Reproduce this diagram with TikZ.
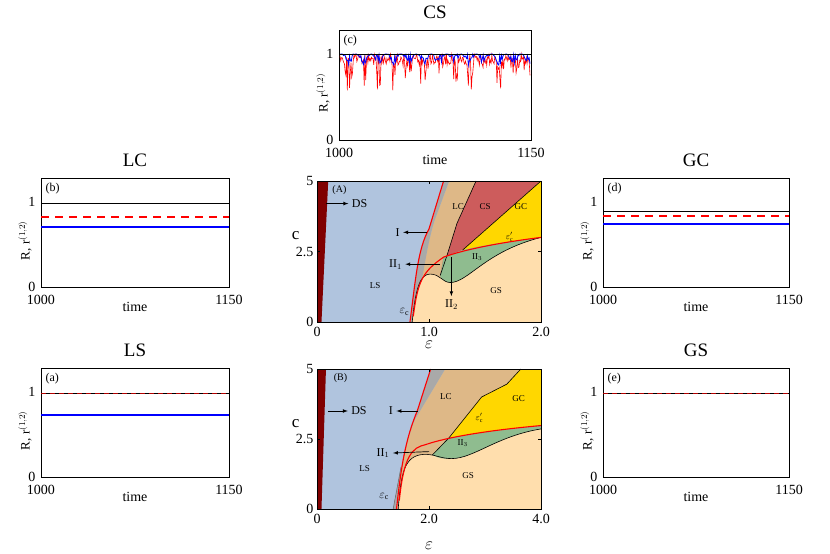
\documentclass[tikz,border=0pt]{standalone}
\usepackage{fontspec}
\setmainfont{Liberation Serif}
\begin{document}
\begin{tikzpicture}[x=1pt,y=-1pt,
  ttl/.style={font=\fontsize{19}{19}\selectfont},
  tick/.style={font=\fontsize{14}{14}\selectfont},
  plab/.style={font=\fontsize{12}{12}\selectfont},
  rlab/.style={font=\fontsize{9}{9}\selectfont},
  blk/.style={line width=0.9pt},
  redc/.style={red,line width=1.1pt},
  arr/.style={-latex,line width=0.7pt}]
\useasboundingbox (0,0) rectangle (830,554);
\definecolor{lsb}{RGB}{176,196,222}
\definecolor{lct}{RGB}{222,184,135}
\definecolor{csr}{RGB}{205,92,92}
\definecolor{gcy}{RGB}{255,215,0}
\definecolor{gsb}{RGB}{255,222,173}
\definecolor{grn}{RGB}{143,188,143}
\definecolor{dsr}{RGB}{128,0,0}
\definecolor{gry}{RGB}{169,169,169}

% ---------- time series panels ----------
\newcommand\tsbox[6]{% #1 left x, #2 top y, #3 title, #4 label, #5 right x, #6 bottom y
  \node[ttl] (t#4) at ({(#1+#5)/2},#2-18) {#3};
  \draw[blk] (#1,#2) rectangle (#5,#6);
  \node[plab,anchor=north west] (p#4) at (#1+1,#2+2) {(#4)};
  \node[tick,anchor=east] (y0#4) at (#1-2,#6) {0};
  \node[tick,anchor=east] (y1#4) at (#1-2,{#6-0.78*(#6-#2)}) {1};
  \node[tick] (x0#4) at (#1,#6+13) {1000};
  \node[tick] (x1#4) at (#5,#6+13) {1150};
  \node[tick] (tm#4) at ({(#1+#5)/2},#6+20) {time};
  \node[font=\fontsize{13}{13}\selectfont,rotate=90] (yl#4) at (#1-16,{(#2+#6)/2+8}) {R, r$^{(1,2)}$};
}
\tsbox{41}{178}{LC}{b}{229}{287}
\tsbox{41}{368}{LS}{a}{229}{477}
\tsbox{603}{178}{GC}{d}{789}{287}
\tsbox{603}{368}{GS}{e}{789}{477}
\tsbox{339}{30}{CS}{c}{531}{140}

% LC
\draw[blk] (41,203) -- (229,203);
\draw[red,line width=1.8pt,dash pattern=on 8pt off 6pt] (41,217) -- (229,217);
\draw[blue,line width=1.2pt] (41,227) -- (229,227);
% LS
\draw[blue,line width=1.2pt] (41,415) -- (229,415);
\draw[blk] (41,393) -- (229,393);
\draw[red!70!black,line width=1pt,dash pattern=on 5pt off 4pt] (41,393) -- (229,393);
% GC
\draw[blk] (603,211) -- (789,211);
\draw[red,line width=1.8pt,dash pattern=on 8pt off 6pt] (603,216) -- (789,216);
\draw[blue,line width=1.2pt] (603,224) -- (789,224);
% GS
\draw[blk] (603,393) -- (789,393);
\draw[red!70!black,line width=1pt,dash pattern=on 5pt off 4pt] (603,393) -- (789,393);
% CS
\pgfmathsetseed{7}
\draw[red,line width=0.6pt] plot[samples=260,domain=340:530] (\x,{140-86*(1-0.12*rnd-0.3*rnd^4*(1+sin(\x*24))/1.4)});
\draw[blue,line width=0.8pt] plot[samples=220,domain=340:530] (\x,{140-86*(1-0.13*rnd*(1+sin(\x*24))/2)});
\draw[blk] (339,54) -- (531,54);

% ---------- phase diagram A ----------
\begin{scope}[shift={(317,322)},x=112pt,y=28.2pt]
\fill[lsb] (0,0) rectangle (2,5);
\fill[lct] (0.84,0) .. controls (0.95,1.5) and (0.97,2.6) .. (1.05,3.6) -- (1.18,5) -- (2,5) -- (2,0) -- cycle;
\fill[csr] (1.1,1.65) -- (1.16,2.35) -- (1.25,3.5) -- (1.42,5) -- (2,5) -- (1.3,2.55) -- (1.13,2.3) -- cycle;
\fill[gcy] (1.3,2.55) -- (2,5) -- (2,3.0) .. controls (1.7,2.85) .. cycle;
\fill[gry] (0.83,0) .. controls (0.88,1.5) and (0.9,2.6) .. (1.0,3.3) -- (1.13,5) -- (1.18,5) -- (1.05,3.6) .. controls (0.97,2.6) and (0.95,1.5) .. (0.86,0) -- cycle;
\fill[gsb] (0.85,0) .. controls (0.88,1.2) and (0.92,1.7) .. (1.01,1.7) .. controls (1.1,1.7) and (1.12,1.4) .. (1.19,1.4) .. controls (1.35,1.4) and (1.5,2.5) .. (2,3.0) -- (2,0) -- cycle;
\fill[grn] (1.1,1.62) .. controls (1.13,1.45) .. (1.19,1.4) .. controls (1.35,1.4) and (1.5,2.5) .. (2,3.0) .. controls (1.7,2.85) and (1.45,2.7) .. (1.3,2.55) -- (1.13,2.3) -- cycle;
\fill[dsr] (0,0) -- (0.04,0) -- (0.1,5) -- (0,5) -- cycle;
\draw[blk,line width=0.6pt] (0.85,0) .. controls (0.88,1.2) and (0.92,1.7) .. (1.01,1.7) .. controls (1.1,1.7) and (1.12,1.4) .. (1.19,1.4) .. controls (1.35,1.4) and (1.5,2.5) .. (2,3.0);
\draw[blk,line width=0.6pt] (1.42,5) -- (1.25,3.5) -- (1.16,2.35) -- (1.1,1.65);
\draw[blk,line width=0.6pt] (1.3,2.55) -- (2,5);
\draw[redc] (0.83,0) .. controls (0.88,1.5) and (0.9,2.6) .. (1.0,3.3) -- (1.13,5);
\draw[redc] (0.86,0.2) .. controls (0.9,1.5) and (0.95,1.8) .. (1.13,2.3) .. controls (1.3,2.55) and (1.6,2.8) .. (2,3.0);
\draw[line width=0.7pt] (0,0) rectangle (2,5);
\draw (0,2.5) -- (0.03,2.5); \draw (2,2.5) -- (1.97,2.5);
\draw (1,0) -- (1,0.12); \draw (1,5) -- (1,4.88);
\node[tick,anchor=east] (ay0) at (0,0) {0};
\node[tick,anchor=east] (ay1) at (0,2.5) {2.5};
\node[tick,anchor=east] (ay2) at (0,5) {5};
\node[tick,anchor=north] (ax0) at (0,-0.05) {0};
\node[tick,anchor=north] (ax1) at (1,-0.05) {1.0};
\node[tick,anchor=north] (ax2) at (2,-0.05) {2.0};
\node[font=\fontsize{17}{17}\selectfont] (ac) at (-0.19,3.05) {c};
\node[font=\fontsize{17}{17}\selectfont] (ae) at (1,-0.8) {$\varepsilon$};
\node[font=\fontsize{10}{10}\selectfont] (pA) at (0.2,4.67) {(A)};
\node[plab] (dsA) at (0.38,4.2) {DS};
\coordinate (dsAs) at (0.08,4.2);
\draw[arr] (dsAs) -- (dsA.west);
\node[plab] (IA) at (0.72,3.18) {I};
\coordinate (IAs) at (0.98,3.18);
\draw[arr] (IAs) -- (IA.east);
\node[plab] (II1A) at (0.7,2.05) {II$_1$};
\coordinate (II1As) at (1.1,2.05);
\draw[arr] (II1As) -- (II1A.east);
\node[plab] (II2A) at (1.2,0.62) {II$_2$};
\coordinate (II2As) at (1.2,2.3);
\draw[arr] (II2As) -- (II2A.north);
\node[rlab] (lsA) at (0.52,1.3) {LS};
\node[plab] (ecA) at (0.78,0.35) {$\varepsilon_{\rm c}$};
\node[rlab] (lcA) at (1.26,4.1) {LC};
\node[rlab] (csA) at (1.5,4.1) {CS};
\node[rlab] (gcA) at (1.82,4.1) {GC};
\node[rlab] (epA) at (1.72,3.02) {$\varepsilon'_{\rm c}$};
\node[rlab] (ii3A) at (1.43,2.3) {II$_3$};
\node[rlab] (gsA) at (1.6,1.12) {GS};
\end{scope}

% ---------- phase diagram B ----------
\begin{scope}[shift={(317,509)},x=56pt,y=28pt]
\fill[lsb] (0,0) rectangle (4,5);
\fill[lct] (1.4,0) .. controls (1.5,1.5) and (1.6,2.5) .. (1.75,3.2) -- (2.29,5) -- (4,5) -- (4,0) -- cycle;
\fill[gcy] (2.36,2.55) -- (2.94,4.0) -- (3.39,4.46) -- (3.64,5) -- (4,5) -- (4,2.98) .. controls (3.2,2.8) .. cycle;
\fill[gry] (1.36,0) .. controls (1.5,1.5) and (1.58,2.5) .. (1.79,3.5) -- (2.03,5) -- (2.29,5) -- (1.75,3.2) .. controls (1.6,2.5) and (1.5,1.5) .. (1.42,0) -- cycle;
\fill[gsb] (1.45,0) .. controls (1.5,1.3) and (1.56,1.9) .. (1.9,1.95) .. controls (2.1,1.97) and (2.2,1.8) .. (2.4,1.8) .. controls (2.8,1.8) and (3.2,2.6) .. (4,2.86) -- (4,0) -- cycle;
\fill[grn] (2.06,1.93) .. controls (2.2,1.8) .. (2.4,1.8) .. controls (2.8,1.8) and (3.2,2.6) .. (4,2.86) -- (4,2.98) .. controls (3.2,2.8) .. (2.36,2.55) -- cycle;
\fill[dsr] (0,0) -- (0.08,0) -- (0.16,5) -- (0,5) -- cycle;
\draw[blk,line width=0.6pt] (1.45,0) .. controls (1.5,1.3) and (1.56,1.9) .. (1.9,1.95) .. controls (2.1,1.97) and (2.2,1.8) .. (2.4,1.8) .. controls (2.8,1.8) and (3.2,2.6) .. (4,2.86);
\draw[blk,line width=0.6pt] (2.06,1.93) -- (2.36,2.55) -- (2.94,4.0) -- (3.39,4.46) -- (3.64,5);
\draw[gray!80!black,line width=0.5pt] (1.36,0) -- (1.5,1.5);
\draw[redc] (1.42,0) .. controls (1.5,1.5) and (1.58,2.5) .. (1.79,3.5) -- (2.03,5);
\draw[redc] (1.47,0.3) .. controls (1.55,1.9) and (1.7,2.2) .. (1.94,2.3) .. controls (2.3,2.55) and (3.0,2.8) .. (4,2.98);
\draw[line width=0.7pt] (0,0) rectangle (4,5);
\draw (0,2.5) -- (0.06,2.5); \draw (4,2.5) -- (3.94,2.5);
\draw (2,0) -- (2,0.12); \draw (2,5) -- (2,4.88);
\node[tick,anchor=east] (by0) at (0,0) {0};
\node[tick,anchor=east] (by1) at (0,2.5) {2.5};
\node[tick,anchor=east] (by2) at (0,5) {5};
\node[tick,anchor=north] (bx0) at (0,-0.05) {0};
\node[tick,anchor=north] (bx1) at (2,-0.05) {2.0};
\node[tick,anchor=north] (bx2) at (4,-0.05) {4.0};
\node[font=\fontsize{17}{17}\selectfont] (bc) at (-0.38,3.05) {c};
\node[font=\fontsize{17}{17}\selectfont] (be) at (2,-1.3) {$\varepsilon$};
\node[font=\fontsize{10}{10}\selectfont] (pB) at (0.42,4.67) {(B)};
\node[plab] (dsB) at (0.75,3.5) {DS};
\coordinate (dsBs) at (0.2,3.5);
\draw[arr] (dsBs) -- (dsB.west);
\node[plab] (IB) at (1.32,3.5) {I};
\coordinate (IBs) at (1.8,3.5);
\draw[arr] (IBs) -- (IB.east);
\node[plab] (II1B) at (1.18,2.0) {II$_1$};
\coordinate (II1Bs) at (2.0,2.05);
\draw[arr] (II1Bs) -- (II1B.east);
\node[rlab] (lsB) at (0.85,1.45) {LS};
\node[plab] (ecB) at (1.2,0.45) {$\varepsilon_{\rm c}$};
\node[rlab] (lcB) at (2.3,4.0) {LC};
\node[rlab] (gcB) at (3.6,3.95) {GC};
\node[rlab] (epB) at (2.9,3.25) {$\varepsilon'_{\rm c}$};
\node[rlab] (ii3B) at (2.6,2.35) {II$_3$};
\node[rlab] (gsB) at (2.7,1.2) {GS};
\end{scope}
\end{tikzpicture}
\end{document}
